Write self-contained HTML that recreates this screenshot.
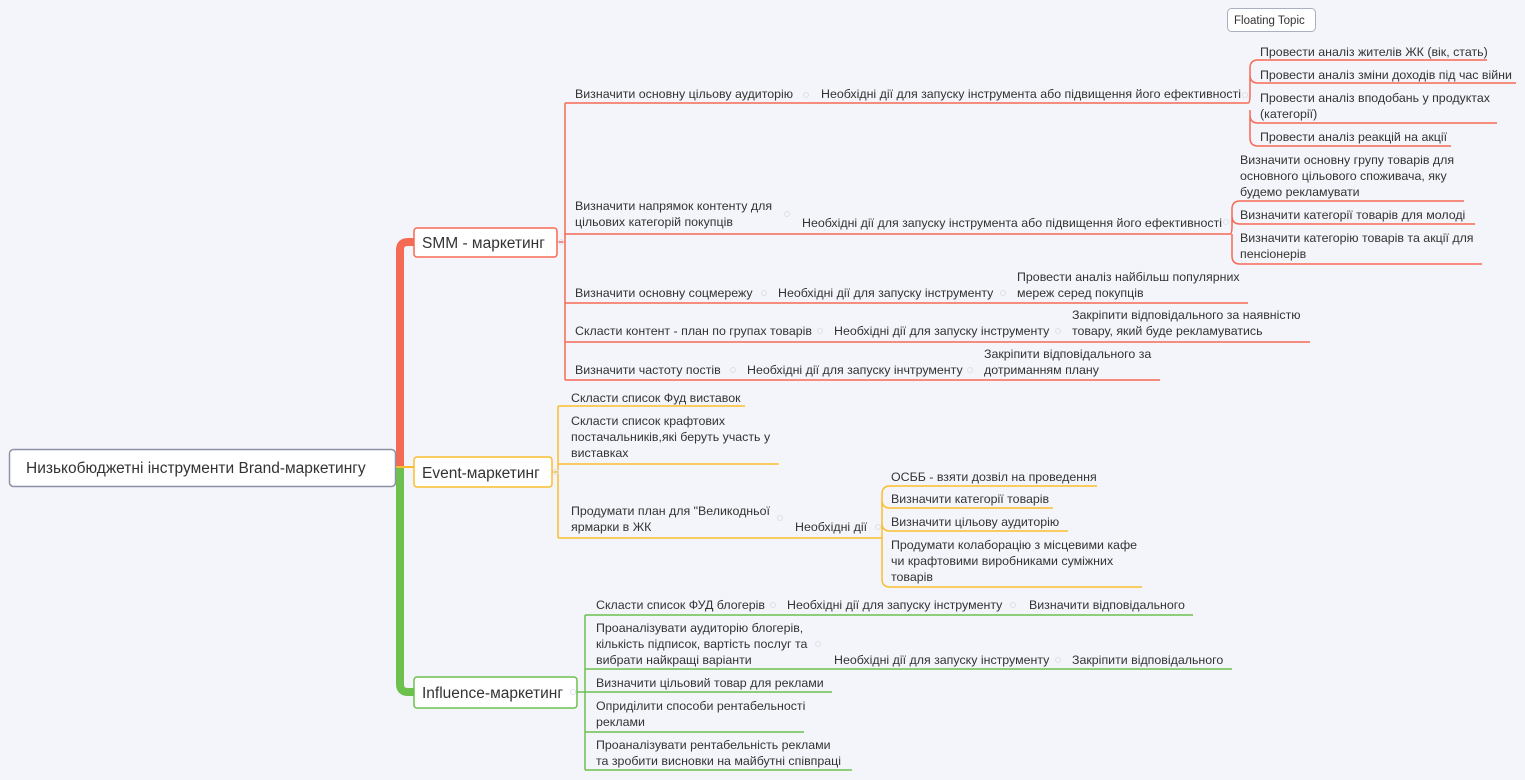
<!DOCTYPE html>
<html><head><meta charset="utf-8"><style>
html,body{margin:0;padding:0;background:#f4f5fa;}
svg{display:block}
text{font-family:"Liberation Sans",sans-serif;font-size:12.4px;fill:#333;}
.r{stroke:#f56a55;fill:none;stroke-width:1.5}
.o{stroke:#fbbd2c;fill:none;stroke-width:1.5}
.g{stroke:#6cc04e;fill:none;stroke-width:1.5}
.d{fill:none;stroke:#dde0ea;stroke-width:1}
</style></head><body>
<svg width="1525" height="780" viewBox="0 0 1525 780">
<path d="M414 242 H408 Q400 242 400 250 V466" stroke="#f56a55" stroke-width="8" fill="none"/>
<path d="M400 466 V684 Q400 692 408 692 H414" stroke="#6cc04e" stroke-width="8" fill="none"/>
<path d="M395 467 H414" stroke="#fbbd2c" stroke-width="2"/>
<rect x="9.5" y="449.5" width="386" height="37" rx="4" fill="#fff" stroke="#8a93a8" stroke-width="1.5"/>
<text x="26" y="473" style="font-size:15.5px">Низькобюджетні інструменти Brand-маркетингу</text>
<rect x="1227.5" y="8.5" width="88" height="23" rx="4" fill="#fff" stroke="#aab0c0"/>
<text x="1234" y="24" style="font-size:11.5px">Floating Topic</text>

<rect x="414" y="228" width="143" height="29" rx="3" fill="#fff" stroke="#f56a55" stroke-width="1.5"/>
<text x="422" y="248" style="font-size:15.5px">SMM - маркетинг</text>
<path class="r" d="M557 242 H565 M565 103 V380"/>
<path class="r" d="M565 103 H1248 M565 234 H1230 M565 303 H1248 M565 342 H1310 M565 380 H1160"/>
<text x="575" y="98">Визначити основну цільову аудиторію</text>
<text x="821" y="98">Необхідні дії для запуску інструмента або підвищення його ефективності</text>
<path class="r" d="M1248 103 Q1250 103 1250 95 V68 Q1250 60 1258 60 H1487 M1250 75 Q1250 83 1258 83 H1516 M1250 115 Q1250 123 1258 123 H1497 M1250 110 V138 Q1250 146 1258 146 H1451"/>
<text x="1260" y="56">Провести аналіз жителів ЖК (вік, стать)</text>
<text x="1260" y="79">Провести аналіз зміни доходів під час війни</text>
<text x="1260" y="102">Провести аналіз вподобань у продуктах</text>
<text x="1260" y="118">(категорії)</text>
<text x="1260" y="141">Провести аналіз реакцій на акції</text>

<text x="575" y="210">Визначити напрямок контенту для</text>
<text x="575" y="226">цільових категорій покупців</text>
<text x="802" y="227">Необхідні дії для запуску інструмента або підвищення його ефективності</text>
<path class="r" d="M1230 234 Q1232 234 1232 226 V209 Q1232 201 1240 201 H1464 M1232 216 Q1232 224 1240 224 H1475 M1232 234 V256 Q1232 264 1240 264 H1482"/>
<text x="1240" y="164">Визначити основну групу товарів для</text>
<text x="1240" y="180">основного цільового споживача, яку</text>
<text x="1240" y="196">будемо рекламувати</text>
<text x="1240" y="219">Визначити категорії товарів для молоді</text>
<text x="1240" y="242">Визначити категорію товарів та акції для</text>
<text x="1240" y="258">пенсіонерів</text>

<text x="575" y="297">Визначити основну соцмережу</text>
<text x="778" y="297">Необхідні дії для запуску інструменту</text>
<text x="1017" y="281">Провести аналіз найбільш популярних</text>
<text x="1017" y="297">мереж серед покупців</text>

<text x="575" y="335">Скласти контент - план по групах товарів</text>
<text x="834" y="335">Необхідні дії для запуску інструменту</text>
<text x="1072" y="319">Закріпити відповідального за наявністю</text>
<text x="1072" y="335">товару, який буде рекламуватись</text>

<text x="575" y="374">Визначити частоту постів</text>
<text x="747" y="374">Необхідні дії для запуску інчтрументу</text>
<text x="984" y="358">Закріпити відповідального за</text>
<text x="984" y="374">дотриманням плану</text>

<rect x="414" y="457" width="138" height="30" rx="3" fill="#fff" stroke="#fbbd2c" stroke-width="1.5"/>
<text x="422" y="478" style="font-size:15.5px">Event-маркетинг</text>
<path class="o" d="M552 472 H558 M558 406 V538 M558 406 H745 M558 464 H779 M558 538 H882"/>
<text x="571" y="402">Скласти список Фуд виставок</text>
<text x="571" y="425">Скласти список крафтових</text>
<text x="571" y="441">постачальників,які беруть участь у</text>
<text x="571" y="457">виставках</text>
<text x="571" y="515">Продумати план для "Великодньої</text>
<text x="571" y="531">ярмарки в ЖК</text>
<text x="795" y="531">Необхідні дії</text>
<path class="o" d="M882 538 Q882 538 882 530 V494 Q882 486 890 486 H1097 M882 500 Q882 508 890 508 H1053 M882 523 Q882 531 890 531 H1068 M882 530 V579 Q882 587 890 587 H1142"/>
<text x="891" y="481">ОСББ - взяти дозвіл на проведення</text>
<text x="891" y="503">Визначити категорії товарів</text>
<text x="891" y="526">Визначити цільову аудиторію</text>
<text x="891" y="549">Продумати колаборацію з місцевими кафе</text>
<text x="891" y="565">чи крафтовими виробниками суміжних</text>
<text x="891" y="581">товарів</text>

<rect x="414" y="677" width="163" height="31" rx="3" fill="#fff" stroke="#6cc04e" stroke-width="1.5"/>
<text x="422" y="698" style="font-size:15.5px">Influence-маркетинг</text>
<path class="g" d="M577 692 H585 M585 615 V770 M585 615 H1193 M585 669 H1232 M585 692 H832 M585 732 H804 M585 770 H852"/>
<text x="596" y="609">Скласти список ФУД блогерів</text>
<text x="787" y="609">Необхідні дії для запуску інструменту</text>
<text x="1029" y="609">Визначити відповідального</text>
<text x="596" y="632">Проаналізувати аудиторію блогерів,</text>
<text x="596" y="648">кількість підписок, вартість послуг та</text>
<text x="596" y="664">вибрати найкращі варіанти</text>
<text x="834" y="664">Необхідні дії для запуску інструменту</text>
<text x="1072" y="664">Закріпити відповідального</text>
<text x="596" y="687">Визначити цільовий товар для реклами</text>
<text x="596" y="710">Опридiлити способи рентабельності</text>
<text x="596" y="726">реклами</text>
<text x="596" y="749">Проаналізувати рентабельність реклами</text>
<text x="596" y="765">та зробити висновки на майбутні співпраці</text>

<g class="d">
<circle cx="561" cy="242" r="2.5"/><circle cx="806" cy="95" r="2.5"/><circle cx="1245" cy="95" r="2.5"/>
<circle cx="787" cy="214" r="2.5"/><circle cx="1226" cy="222" r="2.5"/><circle cx="764" cy="293" r="2.5"/>
<circle cx="1003" cy="293" r="2.5"/><circle cx="820" cy="331" r="2.5"/><circle cx="1058" cy="331" r="2.5"/>
<circle cx="733" cy="370" r="2.5"/><circle cx="970" cy="370" r="2.5"/><circle cx="556" cy="472" r="2.5"/>
<circle cx="780" cy="518" r="2.5"/><circle cx="878" cy="527" r="2.5"/><circle cx="773" cy="605" r="2.5"/>
<circle cx="1013" cy="605" r="2.5"/><circle cx="818" cy="644" r="2.5"/><circle cx="1058" cy="660" r="2.5"/>
<circle cx="573" cy="692" r="2.5"/>
</g>
</svg>
</body></html>
